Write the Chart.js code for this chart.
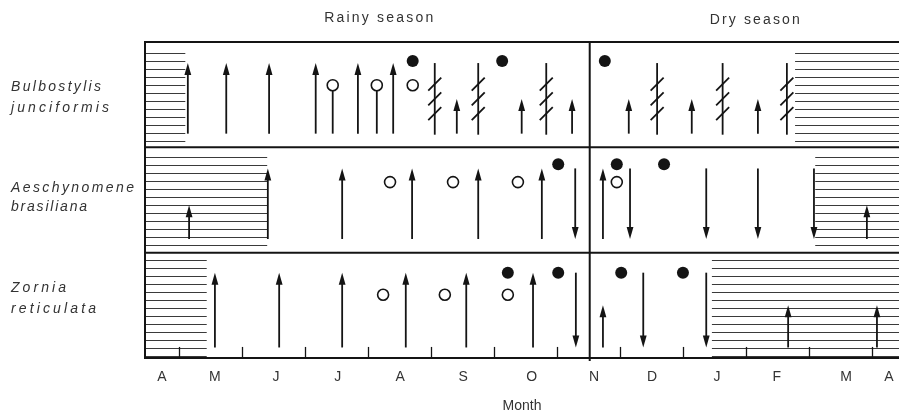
<!DOCTYPE html>
<html><head><meta charset="utf-8">
<script src="https://cdn.jsdelivr.net/npm/chart.js@4.4.1/dist/chart.umd.min.js"></script>
<style>html,body{margin:0;padding:0;background:#fff;overflow:hidden}canvas{display:block}</style>
</head><body>
<canvas id="c" width="899" height="415"></canvas>
<script>
// ---------- DATA (x in months: integer = month boundary, 1 = end of April) ----------
const monthLabels   = ['A','M','J','J','A','S','O','N','D','J','F','M','A'];
const monthLabelPos = [0.73, 1.57, 2.54, 3.52, 4.51, 5.51, 6.60, 7.59, 8.51, 9.54, 10.49, 11.59, 12.27];
const monthBounds   = [1, 2, 3, 4, 5, 6, 7, 8, 9, 10, 11, 12];
const seasonNames   = ['Rainy season', 'Dry season'];
const seasonCenters = [4.17, 10.14];
const seasonDivide  = 7.52;
const speciesNames  = [['Bulbostylis','junciformis'], ['Aeschynomene','brasiliana'], ['Zornia','reticulata']];

// Bulbostylis junciformis
const bulbUpLong     = [1.14, 1.75, 2.43, 3.17, 3.84, 4.40];
const bulbUpShort    = [5.41, 6.44, 7.24, 8.14, 9.14, 10.19];
const bulbDown       = [];
const bulbDead       = [5.06, 5.75, 6.83, 8.59, 9.63, 10.65];
const bulbFlowerStem = [3.44, 4.14];
const bulbFlower     = [4.71];
const bulbFruit      = [4.71, 6.13, 7.76];
const bulbDormant    = [[0.46, 1.10], [10.78, 12.43]];

// Aeschynomene brasiliana
const aesUpLong  = [2.41, 3.59, 4.70, 5.75, 6.76, 7.73];
const aesUpShort = [1.16, 11.92];
const aesDown    = [7.29, 8.16, 9.37, 10.19, 11.08];
const aesFlower  = [4.35, 5.35, 6.38, 7.95];
const aesFruit   = [7.02, 7.95, 8.70];
const aesDormant = [[0.46, 2.40], [11.10, 12.43]];

// Zornia reticulata
const zorUpLong  = [1.57, 2.59, 3.59, 4.60, 5.56, 6.62];
const zorUpShort = [7.73, 10.67, 12.08];
const zorDown    = [7.30, 8.37, 9.37];
const zorFlower  = [4.24, 5.22, 6.22];
const zorFruit   = [6.22, 7.02, 8.02, 9.00];
const zorDormant = [[0.46, 1.44], [9.46, 12.43]];

// ---------- STYLE / LAYOUT ----------
const INK = '#141414', TXT = '#333333';
const FONT = '"Liberation Sans", Arial, sans-serif';
const rows = [
  {base:2, upLong:bulbUpLong, upShort:bulbUpShort, down:bulbDown, dead:bulbDead, flowerStem:bulbFlowerStem,
   flower:bulbFlower, fruit:bulbFruit, dormant:bulbDormant,
   st:{bot:0.13, top:0.80, short:0.46, flowerY:0.59, fruitY:0.82, hb:0.06, ht:0.92, lab:[0.57,0.37], labW:[90,98]}},
  {base:1, upLong:aesUpLong, upShort:aesUpShort, down:aesDown, dead:[], flowerStem:[],
   flower:aesFlower, fruit:aesFruit, dormant:aesDormant,
   st:{bot:0.13, top:0.80, short:0.45, flowerY:0.67, fruitY:0.84, hb:0.07, ht:0.92, lab:[0.61,0.43], labW:[123,76]}},
  {base:0, upLong:zorUpLong, upShort:zorUpShort, down:zorDown, dead:[], flowerStem:[],
   flower:zorFlower, fruit:zorFruit, dormant:zorDormant,
   st:{bot:0.10, top:0.81, short:0.50, flowerY:0.60, fruitY:0.81, hb:0.02, ht:0.96, lab:[0.66,0.46], labW:[55,85]}}
];

const openPts = [], fillPts = [];
rows.forEach(r => {
  r.flower.forEach(v => openPts.push({x:v, y:r.base + r.st.flowerY}));
  r.flowerStem.forEach(v => openPts.push({x:v, y:r.base + r.st.flowerY}));
  r.fruit.forEach(v => fillPts.push({x:v, y:r.base + r.st.fruitY}));
});

function arrow(ctx, X, Y0, Y1){
  const dir = Y1 < Y0 ? -1 : 1, hl = 12, hw = 3.4;
  ctx.beginPath(); ctx.moveTo(X, Y0); ctx.lineTo(X, Y1 - dir*hl*0.5); ctx.stroke();
  ctx.beginPath(); ctx.moveTo(X, Y1); ctx.lineTo(X - hw, Y1 - dir*hl); ctx.lineTo(X + hw, Y1 - dir*hl); ctx.closePath(); ctx.fill();
}
function spacedText(ctx, text, X, Y, width){
  ctx.letterSpacing = '0px';
  const w0 = ctx.measureText(text).width;
  const s = Math.max(-1, (width - w0) / Math.max(1, text.length - 1));
  ctx.letterSpacing = s.toFixed(2) + 'px';
  ctx.fillText(text, X, Y);
  ctx.letterSpacing = '0px';
}

const phenoPlugin = {
  id:'pheno',
  beforeDatasetsDraw(chart){
    const {ctx, chartArea:a, scales:{x, y}} = chart;
    ctx.save();
    // dormant hatching
    ctx.strokeStyle = '#3a3a3a'; ctx.lineWidth = 1;
    const step = 8 / (y.getPixelForValue(0) - y.getPixelForValue(1));
    rows.forEach(r => {
      r.dormant.forEach(([x0, x1]) => {
        const p0 = x.getPixelForValue(x0), p1 = Math.min(a.right, x.getPixelForValue(x1));
        for (let v = r.st.hb; v <= r.st.ht + 1e-6; v += step){
          const py = Math.round(y.getPixelForValue(r.base + v)) + 0.5;
          ctx.beginPath(); ctx.moveTo(p0, py); ctx.lineTo(p1, py); ctx.stroke();
        }
      });
    });
    // frame
    ctx.strokeStyle = INK; ctx.lineWidth = 2;
    [0, 1, 2, 3].forEach(v => {
      const py = y.getPixelForValue(v);
      ctx.beginPath(); ctx.moveTo(a.left, py); ctx.lineTo(a.right, py); ctx.stroke();
    });
    ctx.beginPath(); ctx.moveTo(a.left, y.getPixelForValue(3) - 1); ctx.lineTo(a.left, y.getPixelForValue(0) + 1); ctx.stroke();
    const dx = x.getPixelForValue(seasonDivide);
    ctx.beginPath(); ctx.moveTo(dx, y.getPixelForValue(3) - 1); ctx.lineTo(dx, y.getPixelForValue(0) + 3); ctx.stroke();
    // month ticks
    ctx.lineWidth = 1.3;
    monthBounds.forEach(v => {
      const px = Math.round(x.getPixelForValue(v)) + 0.5;
      ctx.beginPath(); ctx.moveTo(px, y.getPixelForValue(0)); ctx.lineTo(px, y.getPixelForValue(0.105)); ctx.stroke();
    });
    // marks
    ctx.strokeStyle = INK; ctx.fillStyle = INK; ctx.lineWidth = 1.8;
    rows.forEach(r => {
      const P = v => y.getPixelForValue(r.base + v);
      r.upLong.forEach(v => arrow(ctx, x.getPixelForValue(v), P(r.st.bot), P(r.st.top)));
      r.upShort.forEach(v => arrow(ctx, x.getPixelForValue(v), P(r.st.bot), P(r.st.short)));
      r.down.forEach(v => arrow(ctx, x.getPixelForValue(v), P(r.st.top), P(r.st.bot)));
      r.flowerStem.forEach(v => {
        const px = x.getPixelForValue(v);
        ctx.beginPath(); ctx.moveTo(px, P(r.st.bot)); ctx.lineTo(px, P(r.st.flowerY)); ctx.stroke();
      });
      r.dead.forEach(v => {
        const px = x.getPixelForValue(v);
        ctx.beginPath(); ctx.moveTo(px, P(r.st.bot - 0.01)); ctx.lineTo(px, P(r.st.top)); ctx.stroke();
        [0.60, 0.46, 0.32].forEach(s => {
          const py = P(s);
          ctx.beginPath(); ctx.moveTo(px - 6.5, py + 6.5); ctx.lineTo(px + 6.5, py - 6.5); ctx.stroke();
        });
      });
    });
    ctx.restore();
  },
  afterDraw(chart){
    const {ctx, scales:{x, y}} = chart;
    ctx.save();
    ctx.fillStyle = TXT; ctx.textBaseline = 'middle'; ctx.textAlign = 'left';
    // season headings
    ctx.font = '14px ' + FONT;
    const sw = [109, 90], sy = [18, 20];
    seasonNames.forEach((s, i) => {
      spacedText(ctx, s, x.getPixelForValue(seasonCenters[i]) - sw[i] / 2, sy[i], sw[i]);
    });
    // species names
    ctx.font = 'italic 14px ' + FONT;
    rows.forEach((r, i) => {
      speciesNames[i].forEach((t, j) => {
        spacedText(ctx, t, 11, y.getPixelForValue(r.base + r.st.lab[j]), r.st.labW[j]);
      });
    });
    ctx.restore();
  }
};

new Chart(document.getElementById('c'), {
  type: 'scatter',
  data: {
    datasets: [
      {data: openPts, pointRadius: 5.5, pointHoverRadius: 5.5, backgroundColor: '#fff', borderColor: INK, borderWidth: 1.6, pointStyle: 'circle'},
      {data: fillPts, pointRadius: 6, pointHoverRadius: 6, backgroundColor: INK, borderColor: INK, borderWidth: 0, pointStyle: 'circle'}
    ]
  },
  options: {
    responsive: false, animation: false, devicePixelRatio: 1,
    events: [],
    layout: {autoPadding: false, padding: {left: 145, top: 42, right: 0, bottom: 0}},
    plugins: {legend: {display: false}, tooltip: {enabled: false}},
    scales: {
      x: {
        type: 'linear', min: 0.46, max: 12.43, position: 'bottom',
        grid: {display: false, drawTicks: false}, border: {display: false},
        afterBuildTicks: s => { s.ticks = monthLabelPos.map(v => ({value: v})); },
        afterFit: s => { s.height = 57; s.paddingLeft = 0; s.paddingRight = 0; },
        ticks: {autoSkip: false, maxRotation: 0, padding: 11, color: TXT,
                font: {family: FONT, size: 14},
                callback: (v, i) => monthLabels[i]},
        title: {display: true, text: 'Month', color: TXT, padding: {top: 0, bottom: 0},
                font: {family: FONT, size: 14}}
      },
      y: {type: 'linear', min: 0, max: 3, display: false}
    }
  },
  plugins: [phenoPlugin]
});
</script>
</body></html>
